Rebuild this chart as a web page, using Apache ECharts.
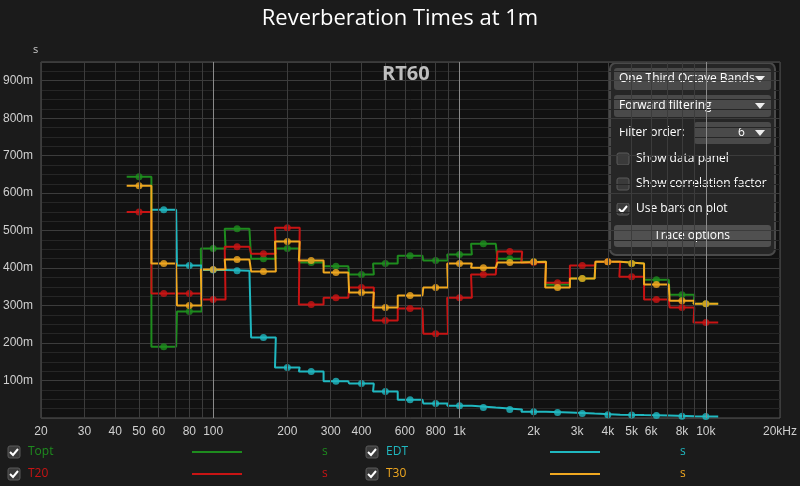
<!DOCTYPE html>
<html><head><meta charset="utf-8">
<script src="https://cdn.jsdelivr.net/npm/echarts@6/dist/echarts.min.js"></script>
<style>html,body{margin:0;background:#1b1b1b}#c{width:800px;height:486px}</style>
</head><body><div id="c"></div>
<script>
const freqs=[50,63,80,100,125,160,200,250,315,400,500,630,800,1000,1250,1600,2000,2500,3150,4000,5000,6300,8000,10000];
const topt=[0.644,0.19,0.284,0.452,0.505,0.425,0.452,0.415,0.405,0.383,0.412,0.433,0.42,0.436,0.465,0.425,0.417,0.356,0.372,0.417,0.412,0.369,0.329,0.305];
const t20=[0.55,0.332,0.332,0.316,0.457,0.438,0.508,0.303,0.321,0.348,0.26,0.292,0.225,0.321,0.383,0.444,0.415,0.361,0.407,0.417,0.377,0.316,0.295,0.255];
const t30=[0.62,0.412,0.3,0.396,0.423,0.391,0.471,0.42,0.388,0.335,0.295,0.327,0.348,0.412,0.401,0.415,0.417,0.348,0.372,0.417,0.412,0.356,0.313,0.305];
const edt=[null,0.556,0.407,0.395,0.393,0.215,0.135,0.124,0.098,0.092,0.071,0.049,0.039,0.033,0.028,0.023,0.017,0.015,0.012,0.009,0.008,0.007,0.005,0.004];
const xTicks=[20,30,40,50,60,80,100,200,300,400,600,800,1000,2000,3000,4000,5000,6000,8000,10000,20000];
const xTickLabels=['20','30','40','50','60','80','100','200','300','400','600','800','1k','2k','3k','4k','5k','6k','8k','10k','20kHz'];
const gridFreqs=[20,30,40,50,60,70,80,90,100,200,300,400,500,600,700,800,900,1000,2000,3000,4000,5000,6000,7000,8000,9000,10000,20000];
const names=['Topt','T20','EDT','T30'];
const colors={Topt:'#1e8c1e',T20:'#c81414',EDT:'#20b8c0',T30:'#f0a820'};
const vals={Topt:topt,T20:t20,EDT:edt,T30:t30};
function steps(v){const d=[];freqs.forEach((f,i)=>{if(v[i]==null)return;d.push([f*Math.pow(2,-1/6),v[i]],[f*Math.pow(2,1/6),v[i]]);});return d;}
const series=[];
names.forEach(n=>{
 series.push({type:'line',data:steps(vals[n]),showSymbol:false,lineStyle:{color:colors[n],width:2},z:3});
 series.push({type:'scatter',data:freqs.map((f,i)=>vals[n][i]==null?null:[f,vals[n][i]]).filter(x=>x),symbolSize:7,itemStyle:{color:colors[n]},z:4});
});
const tickSet=new Set(xTicks);
series.push({type:'line',data:[],z:1,markLine:{silent:true,symbol:'none',animation:false,
 data:gridFreqs.map(f=>({xAxis:f,lineStyle:{color:(f===100||f===1000||f===10000)?'#8a8a8a':'#3c3c3c',width:1,type:'solid'},
  label:{show:tickSet.has(f),position:'start',formatter:xTickLabels[xTicks.indexOf(f)]||'',color:'#d0d0d0',fontSize:12,distance:8}}))}});
const chart=echarts.init(document.getElementById('c'));
function cb(x,y,checked){const g=[{type:'rect',shape:{x:x,y:y,width:12,height:12,r:2},style:{fill:'#3a3a3a',stroke:'#5a5a5a'}}];
 if(checked)g.push({type:'polyline',shape:{points:[[x+2,y+6],[x+5,y+9],[x+10,y+3]]},style:{stroke:'#fff',lineWidth:2,fill:null}});return g;}
const panel=[
 {type:'rect',shape:{x:610,y:63,width:165,height:192,r:6},style:{fill:'#262626',stroke:'#4a4a4a',lineWidth:2}},
 {type:'rect',shape:{x:614,y:68,width:157,height:22,r:3},style:{fill:'#4a4a4a'}},
 {type:'text',x:619,y:73,style:{text:'One Third Octave Bands',fill:'#fff',font:'12px "Open Sans"'}},
 {type:'polygon',shape:{points:[[755,76],[765,76],[760,82]]},style:{fill:'#eee'}},
 {type:'rect',shape:{x:614,y:95,width:157,height:22,r:3},style:{fill:'#4a4a4a'}},
 {type:'text',x:619,y:100,style:{text:'Forward filtering',fill:'#fff',font:'12px "Open Sans"'}},
 {type:'polygon',shape:{points:[[755,103],[765,103],[760,109]]},style:{fill:'#eee'}},
 {type:'text',x:619,y:127,style:{text:'Filter order:',fill:'#fff',font:'12px "Open Sans"'}},
 {type:'rect',shape:{x:694,y:122,width:77,height:22,r:3},style:{fill:'#4a4a4a'}},
 {type:'text',x:738,y:127,style:{text:'6',fill:'#fff',font:'12px "Open Sans"'}},
 {type:'polygon',shape:{points:[[755,130],[765,130],[760,136]]},style:{fill:'#eee'}},
 ...cb(617,153,false),{type:'text',x:636,y:153,style:{text:'Show data panel',fill:'#fff',font:'12px "Open Sans"'}},
 ...cb(617,178,false),{type:'text',x:636,y:178,style:{text:'Show correlation factor',fill:'#fff',font:'12px "Open Sans"'}},
 ...cb(617,203,true),{type:'text',x:636,y:203,style:{text:'Use bars on plot',fill:'#fff',font:'12px "Open Sans"'}},
 {type:'rect',shape:{x:614,y:225,width:157,height:22,r:3},style:{fill:'#505050'}},
 {type:'text',x:692,y:230,style:{text:'Trace options',fill:'#fff',font:'12px "Open Sans"',align:'center'}}
];
const gr=[
 {type:'text',left:'center',top:8,style:{text:'Reverberation Times at 1m',fill:'#fff',font:'22px "Open Sans"'}},
 {type:'text',x:33,y:44,style:{text:'s',fill:'#ccc',font:'11px "Open Sans"'}},
 {type:'text',x:382,y:64,z:50,style:{text:'RT60',fill:'#bdbdbd',font:'bold 20px "Open Sans"'}},
 {type:'group',z:100,children:panel}
];
const leg=[['Topt',8,446],['T20',8,468],['EDT',366,446],['T30',366,468]];
leg.forEach(([n,x,y])=>{gr.push(...cb(x,y,true));
 gr.push({type:'text',x:x+20,y:y,style:{text:n,fill:colors[n],font:'12px "Open Sans"'}});
 gr.push({type:'line',shape:{x1:x+184,y1:y+6,x2:x+234,y2:y+6},style:{stroke:colors[n],lineWidth:2}});
 gr.push({type:'text',x:x+314,y:y,style:{text:'s',fill:colors[n],font:'12px "Open Sans"'}});});
chart.setOption({
 backgroundColor:'#1b1b1b',animation:false,
 grid:{left:40,right:20,top:62,bottom:68,backgroundColor:'#111',show:true,borderColor:'#555'},
 xAxis:{type:'log',min:20,max:20000,logBase:10,axisLabel:{show:false},axisTick:{show:false},splitLine:{show:false},axisLine:{show:false}},
 yAxis:{type:'value',min:0,max:0.95,interval:0.1,axisLine:{show:false},axisTick:{show:false},
  axisLabel:{color:'#d0d0d0',fontSize:12,formatter:v=>(v<0.05||v>0.92)?'':Math.round(v*1000)+'m'},
  splitLine:{lineStyle:{color:'#3c3c3c'}},minorTick:{show:false,splitNumber:4},minorSplitLine:{show:true,lineStyle:{color:'#262626'}}},
 series:series,graphic:gr
});
</script></body></html>
